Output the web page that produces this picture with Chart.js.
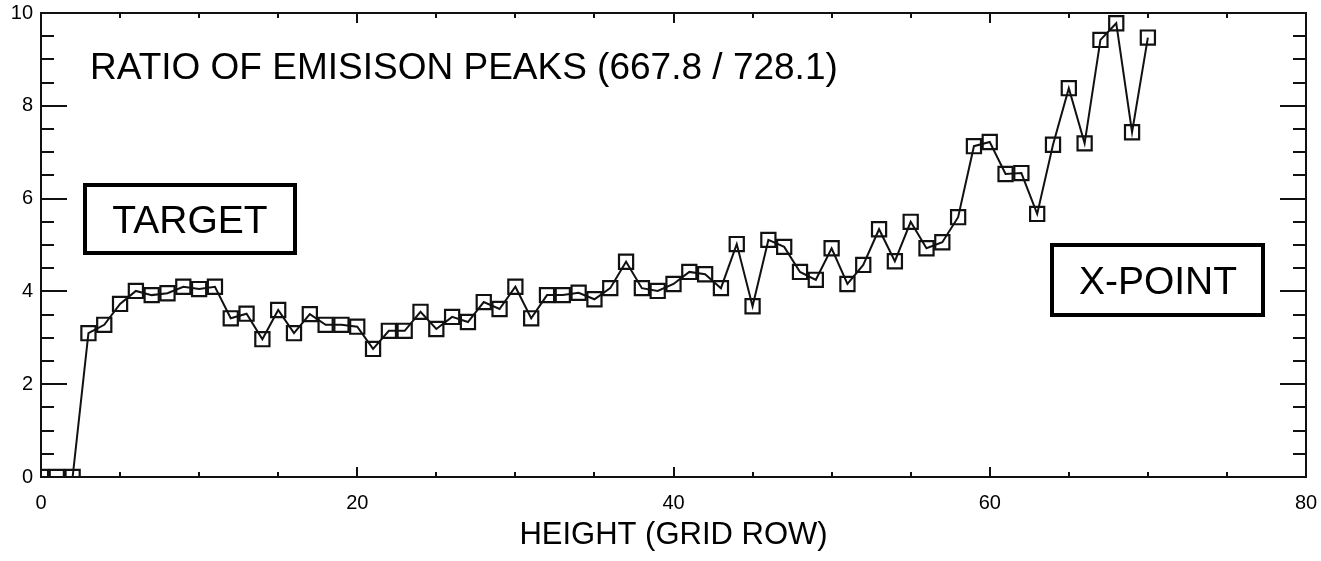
<!DOCTYPE html>
<html>
<head>
<meta charset="utf-8">
<script src="https://cdn.jsdelivr.net/npm/chart.js@4"></script>
<style>
  html, body { margin: 0; padding: 0; background: #fff; }
  canvas { display: block; }
</style>
</head>
<body>
<canvas id="chart" width="1321" height="561"></canvas>
<script>
// grid rows (x) and the ratio (y)
const gridRows = [
  0, 1, 2, 3, 4, 5, 6, 7, 8, 9,
  10, 11, 12, 13, 14, 15, 16, 17, 18, 19,
  20, 21, 22, 23, 24, 25, 26, 27, 28, 29,
  30, 31, 32, 33, 34, 35, 36, 37, 38, 39,
  40, 41, 42, 43, 44, 45, 46, 47, 48, 49,
  50, 51, 52, 53, 54, 55, 56, 57, 58, 59,
  60, 61, 62, 63, 64, 65, 66, 67, 68, 69,
  70
];
const peakRatio = [
  0.0, 0.0, 0.0, 3.10, 3.28, 3.73, 4.01, 3.92, 3.96, 4.10,
  4.05, 4.10, 3.42, 3.52, 2.97, 3.60, 3.10, 3.51, 3.28, 3.28,
  3.24, 2.76, 3.15, 3.15, 3.56, 3.19, 3.45, 3.34, 3.77, 3.62,
  4.10, 3.42, 3.92, 3.92, 3.97, 3.83, 4.07, 4.64, 4.07, 4.01,
  4.16, 4.42, 4.37, 4.07, 5.02, 3.68, 5.11, 4.96, 4.42, 4.25,
  4.93, 4.16, 4.57, 5.34, 4.65, 5.50, 4.93, 5.06, 5.60, 7.13,
  7.22, 6.53, 6.55, 5.67, 7.16, 8.38, 7.19, 9.42, 9.78, 7.43,
  9.47
];
const xTickValues = [0, 20, 40, 60, 80];
const yTickValues = [0, 2, 4, 6, 8, 10];

const titleText = 'RATIO OF EMISISON PEAKS (667.8 / 728.1)';
const xAxisTitle = 'HEIGHT (GRID ROW)';
const boxLabels = ['TARGET', 'X-POINT'];

const INK = '#111';
const FONT = '"Liberation Sans", Arial, sans-serif';

// IDL-style frame: box around the plot with inward ticks on all four sides
const framePlugin = {
  id: 'frame',
  afterDraw(chart) {
    const {ctx, chartArea: a, scales: {x, y}} = chart;
    ctx.save();
    ctx.strokeStyle = INK;
    ctx.lineWidth = 2;
    ctx.strokeRect(a.left, a.top, a.right - a.left, a.bottom - a.top);

    ctx.beginPath();
    for (let v = x.min; v <= x.max; v += 5) {
      const px = Math.round(x.getPixelForValue(v));
      const len = v % 20 === 0 ? 10 : 5;
      ctx.moveTo(px, a.bottom); ctx.lineTo(px, a.bottom - len);
      ctx.moveTo(px, a.top); ctx.lineTo(px, a.top + len);
    }
    for (let v = y.min; v <= y.max; v += 0.5) {
      const py = Math.round(y.getPixelForValue(v));
      const len = v % 2 === 0 ? 26 : 13;
      ctx.moveTo(a.left, py); ctx.lineTo(a.left + len, py);
      ctx.moveTo(a.right, py); ctx.lineTo(a.right - len, py);
    }
    ctx.stroke();

    // annotations
    ctx.fillStyle = '#000';
    ctx.font = '37px ' + FONT;
    ctx.textBaseline = 'alphabetic';
    ctx.textAlign = 'left';
    ctx.fillText(titleText, 90, 79);

    ctx.lineWidth = 4;
    ctx.strokeStyle = '#000';
    ctx.strokeRect(85, 185, 210, 68);
    ctx.strokeRect(1052, 245, 211, 70);
    ctx.font = '39px ' + FONT;
    ctx.textAlign = 'center';
    ctx.fillText(boxLabels[0], 190, 233);
    ctx.fillText(boxLabels[1], 1158, 294);
    ctx.restore();
  }
};

new Chart(document.getElementById('chart'), {
  type: 'scatter',
  data: {
    datasets: [{
      data: gridRows.map((r, i) => ({x: r, y: peakRatio[i]})),
      showLine: true,
      borderColor: INK,
      borderWidth: 2,
      pointStyle: 'rect',
      pointRadius: 10,
      pointHoverRadius: 10,
      pointBorderWidth: 2.2,
      pointBorderColor: INK,
      pointBackgroundColor: 'rgba(0,0,0,0)'
    }]
  },
  options: {
    responsive: false,
    animation: false,
    layout: { padding: { left: 0, right: 15, top: 13, bottom: 0 } },
    plugins: { legend: { display: false }, tooltip: { enabled: false } },
    scales: {
      x: {
        type: 'linear', min: 0, max: 80,
        afterBuildTicks(s) { s.ticks = xTickValues.map(v => ({value: v})); },
        afterFit(s) { s.height = 84; s.paddingLeft = 0; s.paddingRight = 0; },
        grid: { display: false, drawTicks: false },
        border: { display: false },
        ticks: {
          color: '#000', padding: 14, maxRotation: 0,
          font: { family: FONT, size: 20 }
        },
        title: {
          display: true, text: xAxisTitle, color: '#000',
          font: { family: FONT, size: 31, lineHeight: 1.2 },
          padding: { top: 0, bottom: 7 }
        }
      },
      y: {
        type: 'linear', min: 0, max: 10,
        afterBuildTicks(s) { s.ticks = yTickValues.map(v => ({value: v})); },
        afterFit(s) { s.width = 41; s.paddingTop = 0; s.paddingBottom = 0; },
        grid: { display: false, drawTicks: false },
        border: { display: false },
        ticks: {
          color: '#000', padding: 8,
          font: { family: FONT, size: 20 }
        }
      }
    }
  },
  plugins: [framePlugin]
});
</script>
</body>
</html>
